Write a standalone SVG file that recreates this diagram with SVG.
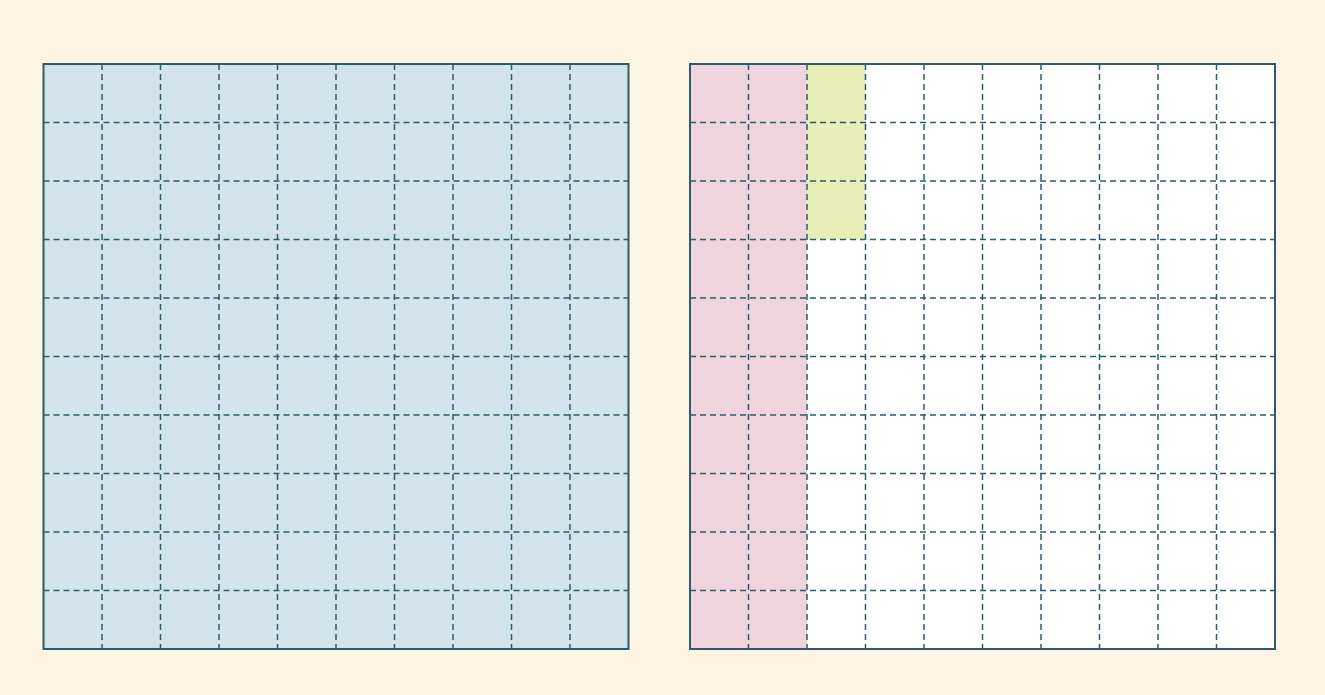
<svg xmlns="http://www.w3.org/2000/svg" width="1325" height="695" viewBox="0 0 1325 695">
<defs>
<style>
.bg{fill:#fdf4e2}
.grid{stroke:#2c5b6a;stroke-width:1.5;stroke-dasharray:6 4;fill:none}
.frame{stroke:#2c5b6a;stroke-width:2;fill:none}
</style>
<pattern id="cells" x="0" y="0" width="58.5" height="58.5" patternUnits="userSpaceOnUse">
<path d="M0 0 V58.5 M0 0 H58.5" class="grid"/>
</pattern>
</defs>
<rect class="bg" x="0" y="0" width="1325" height="695"/>
<g id="left-grid">
<rect x="43.5" y="64" width="585" height="585" fill="#d0e4ea"/>
<g class="grid">
<path d="M102 64V649M160.5 64V649M219 64V649M277.5 64V649M336 64V649M394.5 64V649M453 64V649M511.5 64V649M570 64V649"/>
<path d="M43.5 122.5H628.5M43.5 181H628.5M43.5 239.5H628.5M43.5 298H628.5M43.5 356.5H628.5M43.5 415H628.5M43.5 473.5H628.5M43.5 532H628.5M43.5 590.5H628.5"/>
</g>
<rect class="frame" x="43.5" y="64" width="585" height="585"/>
</g>
<g id="right-grid">
<rect x="690" y="64" width="585" height="585" fill="#ffffff"/>
<rect x="690" y="64" width="117" height="585" fill="#efd4dd"/>
<rect x="807" y="64" width="58.5" height="175.5" fill="#e6edb7"/>
<g class="grid">
<path d="M748.5 64V649M807 64V649M865.5 64V649M924 64V649M982.5 64V649M1041 64V649M1099.5 64V649M1158 64V649M1216.5 64V649"/>
<path d="M690 122.5H1275M690 181H1275M690 239.5H1275M690 298H1275M690 356.5H1275M690 415H1275M690 473.5H1275M690 532H1275M690 590.5H1275"/>
</g>
<rect class="frame" x="690" y="64" width="585" height="585"/>
</g>
</svg>
